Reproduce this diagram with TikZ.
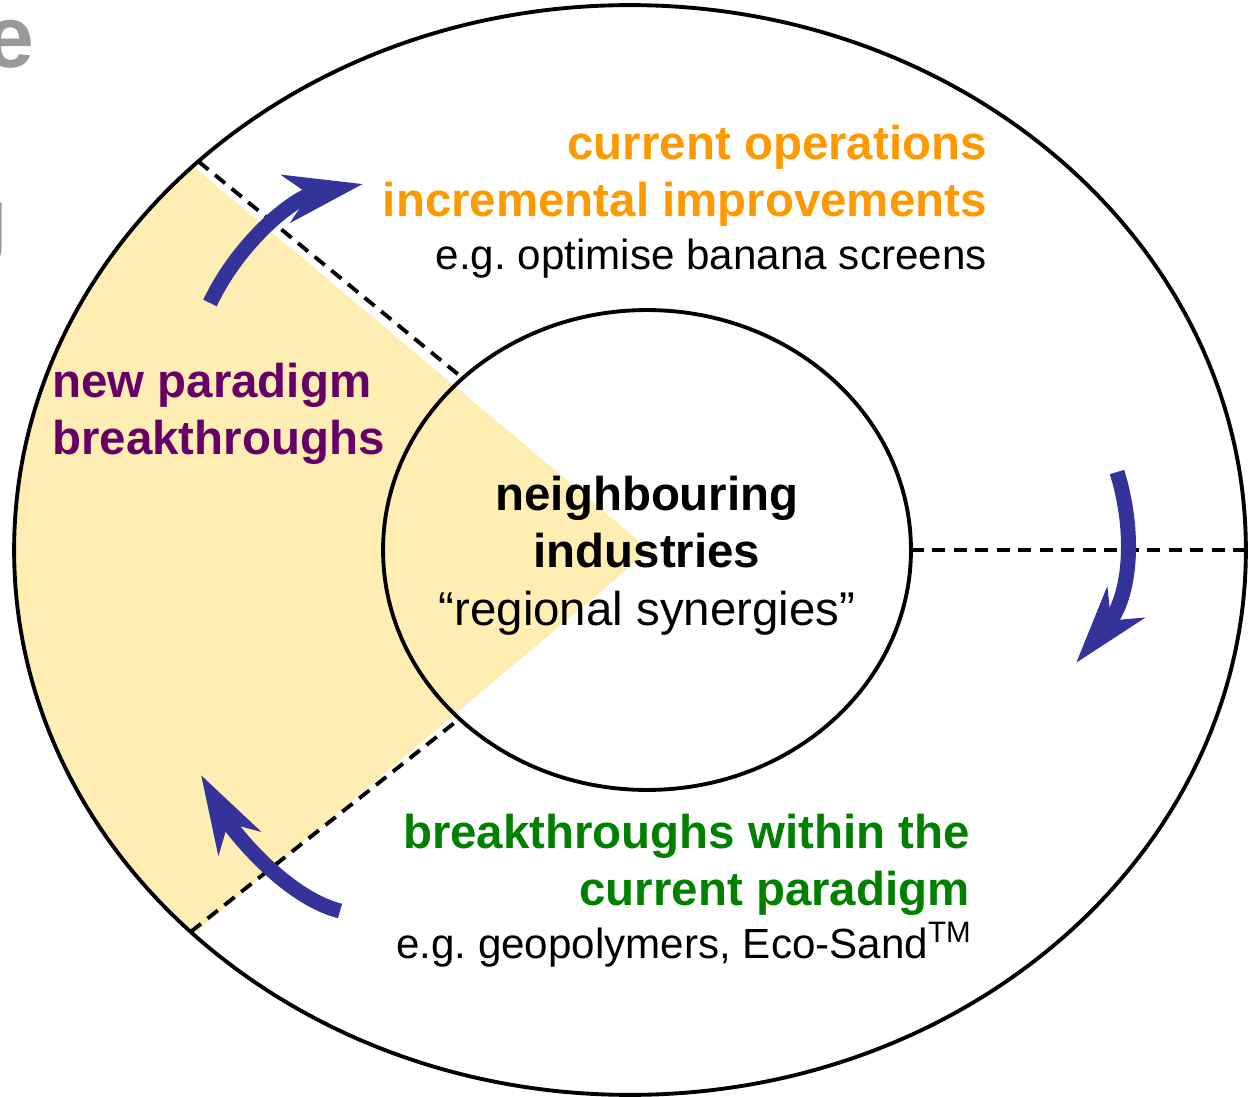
\documentclass[tikz,border=0pt]{standalone}
\usepackage{fontspec}
\setmainfont{Liberation Sans}
\usetikzlibrary{arrows.meta,positioning,shapes.geometric}

\definecolor{opsorange}{HTML}{FF9900}
\definecolor{paraplum}{HTML}{660066}
\definecolor{withingreen}{HTML}{008000}
\definecolor{cycleblue}{HTML}{333399}
\definecolor{wedgeyellow}{HTML}{FFEEB4}
\definecolor{titlegrey}{HTML}{999999}

\tikzset{
  ring/.style={ellipse, draw, line width=2.2pt, inner sep=0pt, outer sep=0pt},
  border/.style={line width=2.2pt, dash pattern=on 0.26cm off 0.17cm},
  cyclearrow/.style={line width=0.3cm, color=cycleblue,
    -{Stealth[length=1.55cm, width=0.95cm, inset=0.45cm]}},
  hdr/.style={font=\fontsize{27}{32}\selectfont\bfseries, inner sep=0pt},
  note/.style={font=\fontsize{24}{29}\selectfont, inner sep=0pt},
  titlebit/.style={font=\fontsize{50}{60}\selectfont\bfseries, text=titlegrey,
    inner sep=0pt, anchor=base east},
}

\begin{document}
\begin{tikzpicture}[x=0.02cm, y=-0.02cm]
  \useasboundingbox (0,0) rectangle (1253,1097);

  % cut-off title letters
  \node[titlebit] (te) at (35,68) {e};
  \node[titlebit] (tg) at (9,250) {g};

  % new paradigm wedge
  \begin{scope}
    \clip (630,550) ellipse [x radius=616, y radius=545];
    \fill[wedgeyellow] (650,550) -- (0,4) -- (0,1097) -- cycle;
  \end{scope}

  \node[ring, minimum width=24.64cm, minimum height=21.8cm] (outer) at (630,550) {};
  \node[ring, minimum width=10.56cm, minimum height=9.6cm] (core) at (647,550) {};

  \draw[border] (outer.138.5) -- (core.137.7);
  \draw[border] (outer.221.5) -- (core.222);
  \draw[border] (core.east) -- (outer.east);

  % arrows
  \coordinate (upfrom) at (210,303);
  \coordinate (upto) at (363,184);
  \coordinate (lowfrom) at (340,911);
  \coordinate (lowto) at (201,775);
  \coordinate (rightfrom) at (1117,472);
  \coordinate (rightto) at (1076,663);
  \draw[cyclearrow] (upfrom) .. controls (240,240) and (295,197) .. (upto);
  \draw[cyclearrow] (lowfrom) .. controls (285,897) and (232,830) .. (lowto);
  \draw[cyclearrow] (rightfrom) .. controls (1135,530) and (1132,595) .. (rightto);

  % texts
  \node[hdr, text=opsorange, anchor=base east] (ops) at (987,160) {current operations};
  \node[hdr, text=opsorange, anchor=base east] (incr) at (987,217) {incremental improvements};
  \node[note, anchor=base east] (opsex) at (987,270) {e.g.\ optimise banana screens};

  \node[hdr, text=paraplum, anchor=base west] (newp) at (52,398) {new paradigm};
  \node[hdr, text=paraplum, anchor=base west] (newb) at (52,455) {breakthroughs};

  \node[hdr, anchor=base] (neigh) at (647,510) {neighbouring};
  \node[hdr, anchor=base] (ind) at (647,567) {industries};
  \node[font=\fontsize{27}{32}\selectfont, inner sep=0pt, anchor=base] (syn) at (647,625) {“regional synergies”};

  \node[hdr, text=withingreen, anchor=base east] (within) at (970,848) {breakthroughs within the};
  \node[hdr, text=withingreen, anchor=base east] (curp) at (970,905) {current paradigm};
  \node[note, anchor=base east] (withinex) at (972,958) {e.g.\ geopolymers, Eco-Sand\textsuperscript{TM}};
\end{tikzpicture}
\end{document}
